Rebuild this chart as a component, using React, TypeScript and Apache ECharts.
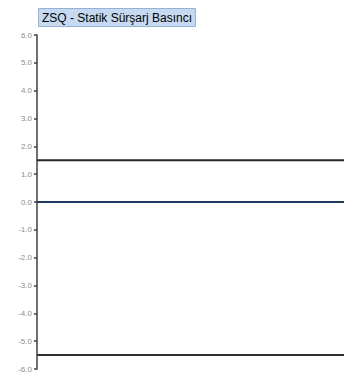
import React, { useEffect, useRef } from "react";
import * as echarts from "echarts";

const titleText = "ZSQ - Statik Sürşarj Basıncı";
const xCategories = ["a", "b"];
const upperLimit = [1.5, 1.5];
const zeroLine = [0, 0];
const lowerLimit = [-5.5, -5.5];
const yMin = -6;
const yMax = 6;
const yInterval = 1;

export default function App() {
  const ref = useRef<HTMLDivElement>(null);
  useEffect(() => {
    if (!ref.current) return;
    const chart = echarts.init(ref.current, undefined, { renderer: "svg" });
    const lineSeries = (name: string, data: number[], color: string) => ({
      name,
      type: "line",
      data,
      symbol: "none",
      showSymbol: false,
      lineStyle: { color, width: 2 },
      z: 3,
    });
    chart.setOption({
      animation: false,
      backgroundColor: "#ffffff",
      title: {
        text: titleText,
        left: 38,
        top: 8,
        padding: [4, 4, 3, 4],
        backgroundColor: "#c6d9f1",
        borderColor: "#95b3d7",
        borderWidth: 1,
        textStyle: { fontFamily: "Liberation Sans Narrow, Liberation Sans, sans-serif", fontSize: 12, fontWeight: "normal", color: "#000" },
      },
      grid: { left: 37, right: 16, top: 35, bottom: 21, containLabel: false },
      xAxis: {
        type: "category",
        data: xCategories,
        boundaryGap: false,
        axisLine: { show: false },
        axisTick: { show: false },
        axisLabel: { show: false },
        splitLine: { show: false },
      },
      yAxis: {
        type: "value",
        min: yMin,
        max: yMax,
        interval: yInterval,
        axisLine: { show: true, lineStyle: { color: "#404040", width: 1.5 } },
        axisTick: { show: true, length: 3, lineStyle: { color: "#404040", width: 1.5 } },
        splitLine: { show: false },
        axisLabel: {
          formatter: (v: number) => v.toFixed(1),
          fontSize: 8,
          color: "#8c8c8c",
          margin: 5,
          fontFamily: "Liberation Sans, sans-serif",
        },
      },
      series: [
        lineSeries("upper", upperLimit, "#262626"),
        lineSeries("zero", zeroLine, "#1f3a60"),
        lineSeries("lower", lowerLimit, "#303030"),
      ],
    });
    return () => chart.dispose();
  }, []);
  return <div ref={ref} style={{ width: 360, height: 390, margin: -8 }} />;
}
